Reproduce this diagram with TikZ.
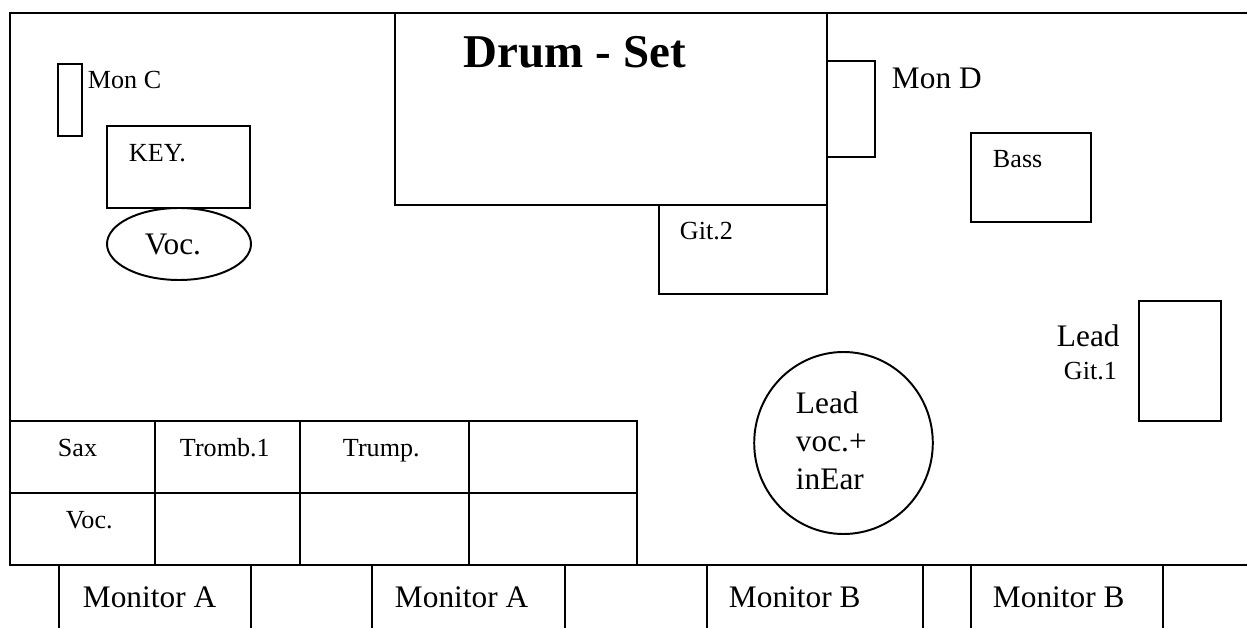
\documentclass[tikz,border=0pt]{standalone}
\usepackage{fontspec}
\setmainfont{Liberation Serif}
\begin{document}
\begin{tikzpicture}[x=0.383pt,y=-0.383pt,line width=0.75pt,line cap=rect,
  lbl/.style={anchor=base west,inner sep=0pt,font=\fontsize{10}{12}\selectfont},
  lblbig/.style={anchor=base west,inner sep=0pt,font=\fontsize{12}{14}\selectfont},
  lbltitle/.style={anchor=base west,inner sep=0pt,font=\fontsize{18}{22}\selectfont\bfseries}]
\path[use as bounding box] (0,0) rectangle (1247,628);
% stage frame
\draw (1247,13) -- (10,13) -- (10,565) -- (1247,565);
% drum set
\draw (395,13) rectangle (827,205);
\node[lbltitle] (drum) at (463,68) {Drum - Set};
% Mon D
\draw (827,61) rectangle (875,157);
\node[lblbig] (mond) at (891,89) {Mon D};
% Mon C
\draw (58,64) rectangle (82,136);
\node[lbl] (monc) at (87,89) {Mon C};
% KEY
\draw (107,126) rectangle (250,208);
\node[lbl] (key) at (128,162) {KEY.};
% Voc ellipse
\draw (179,244) ellipse [x radius=72, y radius=36];
\node[lblbig] (voc) at (144,255) {Voc.};
% Git.2
\draw (659,205) rectangle (827,294);
\node[lbl] (git2) at (679,240) {Git.2};
% Bass
\draw (971,133) rectangle (1091,222);
\node[lbl] (bass) at (992,168) {Bass};
% Lead Git.1
\draw (1139,301) rectangle (1221,421);
\node[lblbig] (lead) at (1056,347) {Lead};
\node[lbl] (git1) at (1063,380) {Git.1};
% Lead vocal circle
\draw (843.5,443) ellipse [x radius=89.3, y radius=91];
\node[lblbig] (lv1) at (795,414) {Lead};
\node[lblbig] (lv2) at (795,452) {voc.+};
\node[lblbig] (lv3) at (795,489) {inEar};
% horn table
\draw (10,421) rectangle (637,565);
\draw (10,493) -- (637,493);
\draw (155,421) -- (155,565);
\draw (300,421) -- (300,565);
\draw (469,421) -- (469,565);
\node[lbl] (sax) at (57,457) {Sax};
\node[lbl] (tromb) at (179,457) {Tromb.1};
\node[lbl] (trump) at (342,457) {Trump.};
\node[lbl] (voc2) at (65,528) {Voc.};
% monitors
\foreach \xx in {59,251,372,565,707,923,971,1163}
  \draw (\xx,565) -- (\xx,628);
\node[lblbig] (ma1) at (82,607) {Monitor A};
\node[lblbig] (ma2) at (394,607) {Monitor A};
\node[lblbig] (mb1) at (728,607) {Monitor B};
\node[lblbig] (mb2) at (992,607) {Monitor B};
\end{tikzpicture}
\end{document}
